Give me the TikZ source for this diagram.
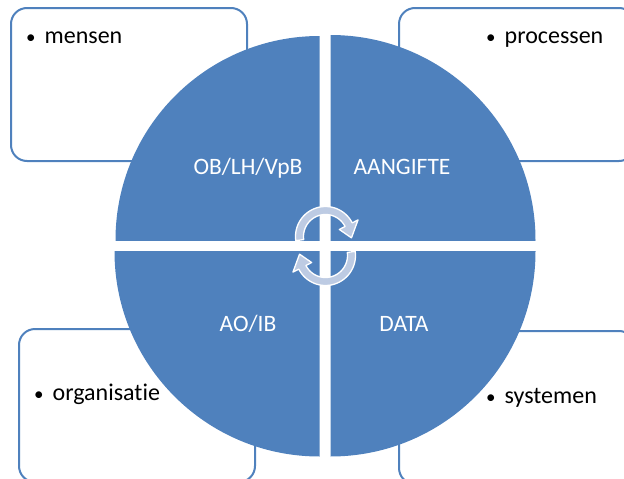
\documentclass[tikz,border=0pt]{standalone}
\usepackage{fontspec}
\setmainfont{Carlito}[Ligatures=CommonOff]
\definecolor{qblue}{HTML}{4F81BD}
\definecolor{arrowfill}{HTML}{BDCBE3}
\newcommand{\bul}{{\fontsize{19}{24}\selectfont •}\hspace{9pt}}
\begin{document}
\begin{tikzpicture}[x=1pt,y=-1pt,
  boxstyle/.style={draw=qblue, line width=2pt, fill=white, rounded corners=16pt},
  quad/.style={fill=qblue},
  arrowstyle/.style={fill=arrowfill, draw=white, line width=1.3pt, line join=round},
  bullettext/.style={anchor=base west, inner sep=0pt, font=\fontsize{24}{28}\selectfont, text=black},
  innertext/.style={anchor=base, inner sep=0pt, font=\fontsize{23.5}{28}\selectfont, text=white}]
\path[use as bounding box] (0,0) rectangle (624,479);
\clip (0,0) rectangle (624,479);
% boxes
\draw[boxstyle] (11,8) rectangle (247,161);
\draw[boxstyle] (399,8) rectangle (635,161);
\draw[boxstyle] (19,329) rectangle (255,482);
\draw[boxstyle] (399,331) rectangle (635,484);
% quadrants
\begin{scope}\clip (319.5,240) rectangle (0,0); \fill[quad] (319.5,240) circle (204); \end{scope}
\begin{scope}\clip (330.5,240) rectangle (624,0); \fill[quad] (330.5,240) circle (205); \end{scope}
\begin{scope}\clip (319.5,251.5) rectangle (0,479); \fill[quad] (319.5,251.5) circle (205); \end{scope}
\begin{scope}\clip (330.5,251.5) rectangle (624,479); \fill[quad] (330.5,251.5) circle (205); \end{scope}
% circular arrows
\def\cx{325.5}\def\cy{236.5}
\def\arrowpath{plot[domain=172:333, samples=40] ({\cx+30*cos(\x)},{\cy+30*sin(\x)})
  -- ({\cx+36.5*cos(333)},{\cy+36.5*sin(333)}) -- ({\cx+26*cos(3)},{\cy+26*sin(3)})
  -- ({\cx+15.5*cos(333)},{\cy+15.5*sin(333)})
  -- plot[domain=333:172, samples=40] ({\cx+22*cos(\x)},{\cy+22*sin(\x)}) -- cycle}
\filldraw[arrowstyle] \arrowpath;
\begin{scope}[rotate around={180:(325.5,246)}]
\filldraw[arrowstyle] \arrowpath;
\end{scope}
% inner labels
\node[innertext] (ob) at (248,174) {OB/LH/VpB};
\node[innertext] (aa) at (402,174) {AANGIFTE};
\node[innertext] (ao) at (248,331) {AO/IB};
\node[innertext] (da) at (404,331) {DATA};
% bullet labels
\node[bullettext] (me) at (26,43) {\bul mensen};
\node[bullettext] (pr) at (486,43) {\bul processen};
\node[bullettext] (or) at (34,400) {\bul organisatie};
\node[bullettext] (sy) at (486,403) {\bul systemen};
\end{tikzpicture}
\end{document}
